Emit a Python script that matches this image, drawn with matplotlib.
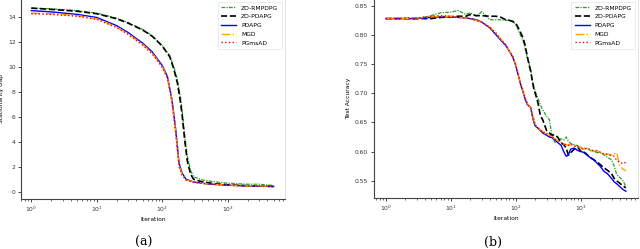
import numpy as np
import matplotlib
matplotlib.use("Agg")
import matplotlib.pyplot as plt

# ---------------------------------------------------------------------------
# Data
# ---------------------------------------------------------------------------

labels = ["ZO-RMPDPG", "ZO-PDAPG", "PDAPG", "MGD", "PGmsAD"]

# (a) stationarity gap
iters_a_fast = [1, 2, 5, 10, 20, 30, 50, 70, 100, 120, 140, 150, 160, 170, 180,
                200, 230, 300, 500, 1000, 2000, 5000]
gap_pdapg = [14.5, 14.4, 14.2, 13.95, 13.3, 12.75, 11.9, 11.2, 10.1, 9.2, 7.4, 6.2,
             5.0, 3.6, 2.3, 1.5, 1.0, 0.78, 0.62, 0.52, 0.46, 0.42]
gap_mgd = [14.3, 14.25, 14.1, 13.85, 13.2, 12.65, 11.8, 11.1, 10.0, 9.1, 7.3, 6.0,
           4.8, 3.4, 2.1, 1.4, 0.95, 0.76, 0.62, 0.52, 0.47, 0.45]
gap_pgmsad = [14.25, 14.2, 14.05, 13.8, 13.15, 12.6, 11.75, 11.05, 9.95, 9.05, 7.2,
              5.9, 4.7, 3.3, 2.0, 1.35, 0.93, 0.75, 0.61, 0.51, 0.46, 0.44]

iters_a_slow = [1, 2, 5, 10, 20, 30, 50, 70, 100, 130, 150, 170, 190, 200, 210, 220,
                240, 270, 300, 400, 600, 1000, 2000, 3000, 5000]
gap_zo_rm = [14.7, 14.65, 14.5, 14.3, 13.9, 13.55, 13.0, 12.5, 11.7, 10.9, 10.0, 9.0,
             7.5, 6.6, 5.5, 4.5, 2.9, 1.7, 1.2, 0.95, 0.8, 0.68, 0.6, 0.6, 0.5]
gap_zo_pd = [14.7, 14.6, 14.45, 14.25, 13.85, 13.5, 12.95, 12.45, 11.65, 10.8, 9.8,
             8.7, 7.1, 6.2, 5.1, 4.1, 2.5, 1.4, 1.0, 0.8, 0.65, 0.55, 0.48, 0.45, 0.42]

# (b) test accuracy
iters_b = [1, 2, 3, 5, 7, 10, 13, 17, 20, 25, 30, 40, 50, 60, 70, 80, 90, 100, 110,
           120, 130, 140, 150, 160, 170, 180, 190, 200, 220, 240, 260, 280, 300, 330,
           360, 400, 450, 500, 550, 600, 650, 700, 800, 900, 1000, 1100, 1200, 1400,
           1600, 1800, 2000, 2300, 2600, 3000, 3300, 3600, 4000, 4500, 5000]
acc_zo_rm = [.828, .828, .828, .833, .838, .839, .842, .835, .838, .832, .840, .826,
             .826, .826, .825, .825, .824, .818, .808, .798, .790, .776, .762, .752,
             .742, .724, .712, .703, .692, .680, .672, .666, .660, .655, .630, .616,
             .618, .622, .620, .625, .617, .614, .612, .610, .608, .604, .607, .602,
             .600, .598, .599, .594, .590, .586, .575, .561, .556, .550, .540]
acc_zo_pd = [.828, .828, .828, .828, .830, .831, .832, .832, .835, .833, .833, .832,
             .832, .830, .826, .825, .823, .820, .812, .803, .795, .782, .765, .750,
             .738, .722, .708, .700, .684, .662, .655, .645, .636, .632, .628, .629,
             .624, .615, .612, .606, .594, .598, .604, .608, .601, .600, .597, .590,
             .586, .582, .578, .572, .568, .562, .554, .550, .546, .541, .538]
acc_pdapg = [.828, .828, .828, .830, .831, .831, .830, .829, .828, .826, .822, .812,
             .800, .790, .782, .772, .762, .748, .730, .714, .702, .690, .681, .678,
             .676, .662, .651, .644, .640, .636, .632, .630, .628, .625, .624, .620,
             .615, .611, .600, .592, .594, .604, .606, .602, .600, .599, .596, .590,
             .586, .580, .575, .566, .562, .554, .548, .545, .540, .535, .532]
acc_mgd = [.828, .828, .829, .831, .832, .832, .830, .829, .828, .825, .821, .814,
           .802, .792, .783, .773, .763, .750, .732, .716, .704, .692, .683, .679,
           .675, .664, .655, .646, .641, .637, .635, .632, .630, .628, .626, .622,
           .618, .616, .613, .612, .610, .612, .610, .608, .607, .604, .606, .603,
           .600, .602, .598, .595, .596, .594, .596, .598, .576, .570, .567]
acc_pgmsad = [.828, .829, .829, .832, .833, .832, .831, .829, .828, .824, .822, .813,
              .803, .791, .784, .772, .764, .749, .733, .715, .705, .691, .684, .678,
              .676, .663, .656, .645, .642, .636, .636, .631, .631, .627, .627, .621,
              .619, .615, .614, .611, .611, .613, .609, .609, .606, .605, .605, .604,
              .601, .601, .599, .596, .595, .593, .592, .585, .582, .579, .582]

# ---------------------------------------------------------------------------
# Plot
# ---------------------------------------------------------------------------

styles = {
    "ZO-RMPDPG": dict(color="#2ca02c", linestyle=(0, (3, 1, 1, 1)), lw=0.9),
    "ZO-PDAPG": dict(color="black", linestyle="--", lw=1.2),
    "PDAPG": dict(color="blue", linestyle="-", lw=1.0),
    "MGD": dict(color="orange", linestyle="-.", lw=1.0),
    "PGmsAD": dict(color="red", linestyle=":", lw=1.0),
}

FS = 4.3

fig = plt.figure(figsize=(6.4, 2.49), dpi=100)
ax1 = fig.add_axes([0.033, 0.2, 0.412, 0.805])
ax2 = fig.add_axes([0.584, 0.205, 0.413, 0.80])

ax1.plot(iters_a_slow, gap_zo_rm, label=labels[0], **styles["ZO-RMPDPG"])
ax1.plot(iters_a_slow, gap_zo_pd, label=labels[1], **styles["ZO-PDAPG"])
ax1.plot(iters_a_fast, gap_pdapg, label=labels[2], **styles["PDAPG"])
ax1.plot(iters_a_fast, gap_mgd, label=labels[3], **styles["MGD"])
ax1.plot(iters_a_fast, gap_pgmsad, label=labels[4], **styles["PGmsAD"])
ax1.set_xscale("log")
ax1.set_xlim(0.7, 7400)
ax1.set_ylim(-0.6, 15.45)
ax1.set_yticks(np.arange(0, 15, 2))
ax1.set_xlabel("Iteration", fontsize=FS, labelpad=2)
ax1.set_ylabel("Stationarity Gap", fontsize=FS, labelpad=3)

ax2.plot(iters_b, acc_zo_rm, label=labels[0], **styles["ZO-RMPDPG"])
ax2.plot(iters_b, acc_zo_pd, label=labels[1], **styles["ZO-PDAPG"])
ax2.plot(iters_b, acc_pdapg, label=labels[2], **styles["PDAPG"])
ax2.plot(iters_b, acc_mgd, label=labels[3], **styles["MGD"])
ax2.plot(iters_b, acc_pgmsad, label=labels[4], **styles["PGmsAD"])
ax2.set_xscale("log")
ax2.set_xlim(0.65, 7700)
ax2.set_ylim(0.5205, 0.862)
ax2.set_yticks([0.55, 0.60, 0.65, 0.70, 0.75, 0.80, 0.85])
ax2.set_xlabel("Iteration", fontsize=FS, labelpad=2)
ax2.set_ylabel("Test Accuracy", fontsize=FS, labelpad=3)

for ax in (ax1, ax2):
    ax.tick_params(labelsize=FS, length=2, width=0.5, pad=2, labelcolor="#333333")
    ax.tick_params(which="minor", length=1.2, width=0.4)
    for side in ("left", "bottom"):
        ax.spines[side].set_color("#444444")
        ax.spines[side].set_linewidth(0.8)
    for side in ("top", "right"):
        ax.spines[side].set_color("#dddddd")
        ax.spines[side].set_linewidth(0.6)
    leg = ax.legend(loc="upper right", fontsize=FS, handlelength=2.5,
                    borderpad=0.6, labelspacing=0.6, fancybox=False,
                    bbox_to_anchor=(1.0, 1.0))
    leg.get_frame().set_linewidth(0.5)
    leg.get_frame().set_edgecolor("#dddddd")

fig.text(0.224, 0.028, "(a)", ha="center", va="center", fontsize=9,
         family="DejaVu Serif")
fig.text(0.771, 0.028, "(b)", ha="center", va="center", fontsize=9,
         family="DejaVu Serif")

fig.savefig("out.png", dpi=100)
